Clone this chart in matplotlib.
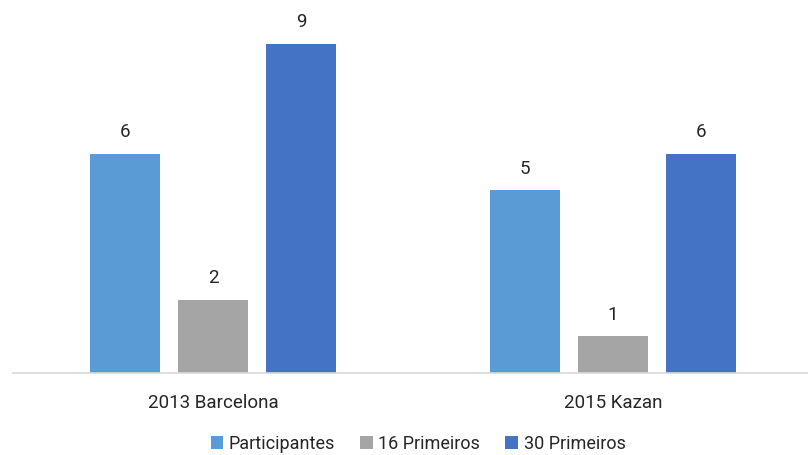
import matplotlib
matplotlib.use("Agg")
import matplotlib.pyplot as plt
import numpy as np

categories = ["2013 Barcelona", "2015 Kazan"]
series_names = ["Participantes", "16 Primeiros", "30 Primeiros"]
participantes = [6, 5]
primeiros_16 = [2, 1]
primeiros_30 = [9, 6]
colors = ["#5B9BD5", "#A5A5A5", "#4472C4"]

plt.rcParams["font.family"] = ["Roboto", "DejaVu Sans"]
text_color = "#262626"

fig = plt.figure(figsize=(8.08, 4.55), dpi=100)
ax = fig.add_axes([13 / 808, 82 / 455, 795 / 808, 365.6 / 455])

x = np.arange(len(categories))
width = 0.175
step = 0.22
for i, (vals, name, c) in enumerate(zip([participantes, primeiros_16, primeiros_30], series_names, colors)):
    pos = x + (i - 1) * step
    bars = ax.bar(pos, vals, width=width, color=c, label=name, zorder=2)
    for b, v in zip(bars, vals):
        ax.annotate(str(v), (b.get_x() + b.get_width() / 2, v), xytext=(0, 9),
                    textcoords="offset points", ha="center", va="bottom",
                    fontsize=13.5, color=text_color)

ax.set_xlim(-0.5, -0.5 + 795 / 400)
ax.set_ylim(0, 10)
ax.set_yticks([])
ax.set_xticks(x)
ax.set_xticklabels(categories, fontsize=13.5, color=text_color)
ax.tick_params(axis="x", length=0, pad=15)
for s in ["top", "right", "left"]:
    ax.spines[s].set_visible(False)
ax.spines["bottom"].set_color("#D9D9D9")
ax.spines["bottom"].set_linewidth(1.2)

leg = fig.legend(loc="center", bbox_to_anchor=(418 / 808, 1 - 444 / 455), ncol=3,
                 frameon=False, fontsize=13, handlelength=0.7, handleheight=0.7,
                 handletextpad=0.3, columnspacing=1.4)
for t in leg.get_texts():
    t.set_color(text_color)

fig.savefig("out.png", dpi=100)
